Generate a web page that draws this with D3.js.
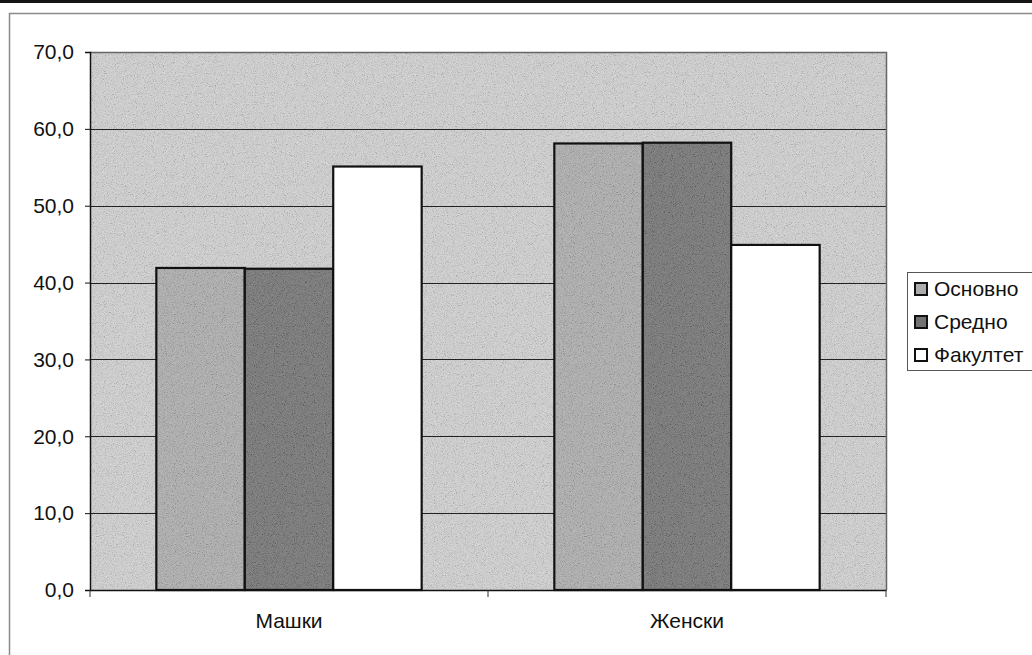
<!DOCTYPE html>
<html>
<head>
<meta charset="utf-8">
<script src="https://cdn.jsdelivr.net/npm/d3@7"></script>
<style>
  html, body { margin: 0; padding: 0; background: #fff; }
  svg { display: block; font-family: "Liberation Sans", Arial, sans-serif; }
</style>
</head>
<body>
<svg id="chart" width="1032" height="655"></svg>
<script>
// ---- data ----
const categories = ["Машки", "Женски"];
const seriesNames = ["Основно", "Средно", "Факултет"];
const osnovno = [41.9, 58.1];
const sredno = [41.8, 58.2];
const fakultet = [55.1, 44.9];
const yTicks = [0, 10, 20, 30, 40, 50, 60, 70];
const seriesColors = ["#acacac", "#727272", "#ffffff"];
const plotBg = "#d0d0d0";

const seriesValues = [osnovno, sredno, fakultet];

const svg = d3.select("#chart");
const W = 1032, H = 655;
const plot = { left: 90, right: 886, top: 52, bottom: 590 };
const FS = 21;

// grayscale noise filter
const defs = svg.append("defs");
const f = defs.append("filter").attr("id", "noise").attr("x", 0).attr("y", 0).attr("width", "100%").attr("height", "100%");
f.append("feTurbulence").attr("type", "fractalNoise").attr("baseFrequency", 1.1).attr("numOctaves", 2).attr("seed", 5).attr("result", "t");
f.append("feColorMatrix").attr("type", "matrix").attr("in", "t")
  .attr("values", "2 0 0 0 -0.5  2 0 0 0 -0.5  2 0 0 0 -0.5  0 0 0 0 1").attr("result", "n");
f.append("feComposite").attr("in", "n").attr("in2", "SourceGraphic").attr("operator", "in");

// top dark band
svg.append("rect").attr("x", 0).attr("y", 0).attr("width", W).attr("height", 3).attr("fill", "#151515");
// outer chart border
svg.append("path").attr("d", `M9.5,${H} V13.5 H${W}`).attr("fill", "none").attr("stroke", "#8a8a8a").attr("stroke-width", 1.5);

const x0 = d3.scaleBand().domain(categories).range([plot.left, plot.right]).paddingInner(0).paddingOuter(0);
const x1 = d3.scaleBand().domain(seriesNames).range([0, x0.bandwidth()]).paddingInner(0).paddingOuter(0.75);
const y = d3.scaleLinear().domain([0, 70]).range([plot.bottom, plot.top]);

// plot background
svg.append("rect").attr("x", plot.left).attr("y", plot.top)
  .attr("width", plot.right - plot.left).attr("height", plot.bottom - plot.top)
  .attr("fill", plotBg);
svg.append("rect").attr("x", plot.left).attr("y", plot.top)
  .attr("width", plot.right - plot.left).attr("height", plot.bottom - plot.top)
  .attr("fill", "#fff").attr("filter", "url(#noise)").attr("opacity", 0.16);

// gridlines
svg.append("g").selectAll("line").data(yTicks.filter(d => d > 0 && d < 70)).join("line")
  .attr("x1", plot.left).attr("x2", plot.right)
  .attr("y1", d => Math.round(y(d)) + 0.5).attr("y2", d => Math.round(y(d)) + 0.5)
  .attr("stroke", "#222").attr("stroke-width", 1);

// plot border (top/right)
svg.append("path").attr("d", `M${plot.left},${plot.top + 0.5} H${plot.right + 0.5} V${plot.bottom}`)
  .attr("fill", "none").attr("stroke", "#666").attr("stroke-width", 1.5);

// bars
const groups = svg.append("g").selectAll("g").data(categories).join("g")
  .attr("transform", d => `translate(${x0(d)},0)`);
groups.each(function(cat, ci) {
  const g = d3.select(this);
  seriesNames.forEach((s, si) => {
    const v = seriesValues[si][ci];
    g.append("rect")
      .attr("x", x1(s)).attr("y", y(v))
      .attr("width", x1.bandwidth()).attr("height", y(0) - y(v))
      .attr("fill", seriesColors[si])
      .attr("stroke", "#111").attr("stroke-width", 2.2);
    if (si < 2) {
      g.append("rect")
        .attr("x", x1(s) + 1.5).attr("y", y(v) + 1.5)
        .attr("width", x1.bandwidth() - 3).attr("height", y(0) - y(v) - 3)
        .attr("fill", "#fff").attr("filter", "url(#noise)").attr("opacity", 0.16);
    }
  });
});

// y axis
const yAxis = d3.axisLeft(y).tickValues(yTicks).tickSize(5).tickPadding(11)
  .tickFormat(d => d3.format(".1f")(d).replace(".", ","));
const gy = svg.append("g").attr("transform", `translate(${plot.left},0)`).call(yAxis);
gy.select(".domain").attr("stroke", "#111").attr("stroke-width", 1.5);
gy.selectAll(".tick line").attr("stroke", "#111");
gy.selectAll("text").attr("font-size", FS).attr("fill", "#111")
  .attr("font-family", "'Liberation Sans', Arial, sans-serif");

// x axis
const xAxis = d3.axisBottom(x0).tickSize(0).tickPadding(0);
const gx = svg.append("g").attr("transform", `translate(0,${plot.bottom})`).call(xAxis);
gx.select(".domain").attr("stroke", "#111").attr("stroke-width", 1.5);
gx.selectAll(".tick text").attr("font-size", FS).attr("fill", "#111").attr("dy", 0).attr("y", 38)
  .attr("font-family", "'Liberation Sans', Arial, sans-serif");
// category boundary ticks
const bounds = categories.map(c => x0(c)).concat([x0(categories[categories.length - 1]) + x0.bandwidth()]);
svg.append("g").selectAll("line").data(bounds).join("line")
  .attr("x1", d => d).attr("x2", d => d)
  .attr("y1", plot.bottom).attr("y2", plot.bottom + 7)
  .attr("stroke", "#333").attr("stroke-width", 1);

// legend
const lg = svg.append("g");
lg.append("rect").attr("x", 907.5).attr("y", 272.5).attr("width", 130).attr("height", 98)
  .attr("fill", "#fff").attr("stroke", "#555").attr("stroke-width", 1);
seriesNames.forEach((s, i) => {
  const cy = 289 + i * 33;
  lg.append("rect").attr("x", 915).attr("y", cy - 6).attr("width", 12).attr("height", 12)
    .attr("fill", seriesColors[i]).attr("stroke", "#111").attr("stroke-width", 2);
  lg.append("text").attr("x", 934).attr("y", cy + 7).text(s)
    .attr("font-size", FS).attr("fill", "#111");
});
</script>
</body>
</html>
